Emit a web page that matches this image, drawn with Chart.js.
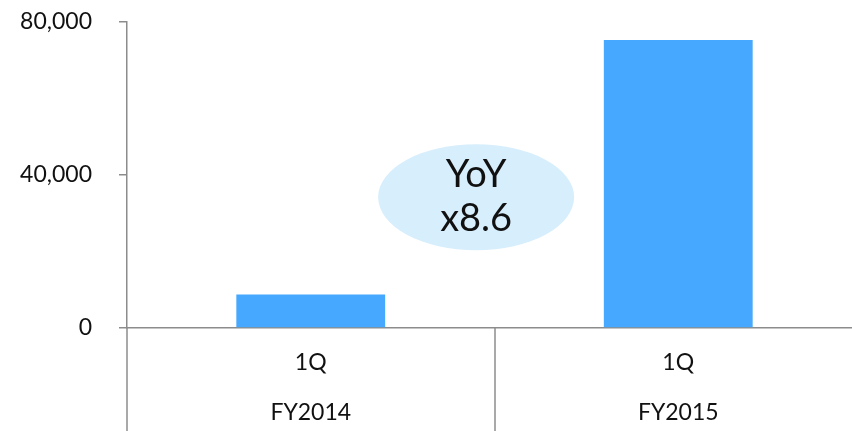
<!DOCTYPE html>
<html lang="ja">
<head>
<meta charset="UTF-8">
<title>1Q FY2014 vs FY2015</title>
<script src="https://cdn.jsdelivr.net/npm/chart.js"></script>
<style>
  html, body { margin: 0; padding: 0; background: #fff; overflow: hidden; }
  #wrap { width: 852px; height: 431px; overflow: hidden; }
</style>
</head>
<body>
<div id="wrap"><canvas id="chart" width="862" height="431"></canvas></div>
<script>
// data
const quarters = ['1Q', '1Q'];
const fiscalYears = ['FY2014', 'FY2015'];
const values = [8750, 75300];
const yTicks = [0, 40000, 80000];
const badgeLines = ['YoY', 'x8.6'];

const axisColor = '#8c8c8c';
const fontFamily = 'Lato, "DejaVu Sans", sans-serif';

// vertical separators under the x axis (category boundaries)
const separators = {
    id: 'separators',
    afterDraw(chart) {
        const ctx = chart.ctx;
        const x = chart.scales.x;
        const area = chart.chartArea;
        ctx.save();
        ctx.strokeStyle = axisColor;
        ctx.lineWidth = 1.5;
        for (let i = 0; i <= quarters.length; i++) {
            const px = Math.round(x.getPixelForValue(i - 0.5));
            ctx.beginPath();
            ctx.moveTo(px, area.bottom);
            ctx.lineTo(px, chart.height);
            ctx.stroke();
        }
        ctx.restore();
    }
};

// the YoY ellipse between the two bars
const badge = {
    id: 'badge',
    afterDatasetsDraw(chart) {
        const ctx = chart.ctx;
        const cx = chart.scales.x.getPixelForValue(0.45);
        const cy = chart.scales.y.getPixelForValue(34200);
        ctx.save();
        ctx.fillStyle = '#d7eefc';
        ctx.beginPath();
        ctx.ellipse(cx, cy, 98, 53, 0, 0, Math.PI * 2);
        ctx.fill();
        ctx.fillStyle = '#111';
        ctx.font = '38px ' + fontFamily;
        ctx.textAlign = 'center';
        ctx.textBaseline = 'middle';
        ctx.fillText(badgeLines[0], cx, cy - 22);
        ctx.fillText(badgeLines[1], cx, cy + 22);
        ctx.restore();
    }
};

new Chart(document.getElementById('chart'), {
    type: 'bar',
    data: {
        labels: quarters.map((q, i) => [q, fiscalYears[i]]),
        datasets: [{
            data: values,
            backgroundColor: '#47a8ff',
            barPercentage: 0.405,
            categoryPercentage: 1
        }]
    },
    options: {
        responsive: false,
        animation: false,
        layout: { padding: { top: 22, right: 0, left: 0, bottom: 0 } },
        plugins: { legend: { display: false }, tooltip: { enabled: false } },
        scales: {
            x: {
                grid: { display: false },
                border: { color: axisColor, width: 1.5 },
                ticks: {
                    color: '#111',
                    font: { family: fontFamily, size: 23, lineHeight: 50 / 23 },
                    padding: 2
                },
                afterFit(scale) {
                    scale.height = 103;
                    scale.paddingLeft = 0;
                    scale.paddingRight = 0;
                }
            },
            y: {
                min: 0,
                max: 80000,
                afterBuildTicks(scale) { scale.ticks = yTicks.map(v => ({ value: v })); },
                grid: { drawOnChartArea: false, color: axisColor, tickLength: 8, lineWidth: 1.5 },
                border: { color: axisColor, width: 1.5 },
                ticks: {
                    color: '#111',
                    padding: 27,
                    font: { family: fontFamily, size: 23 },
                    callback: v => v.toLocaleString('en-US')
                },
                afterFit(scale) {
                    scale.width = 127;
                    scale.paddingTop = 0;
                    scale.paddingBottom = 0;
                }
            }
        }
    },
    plugins: [separators, badge]
});
</script>
</body>
</html>
